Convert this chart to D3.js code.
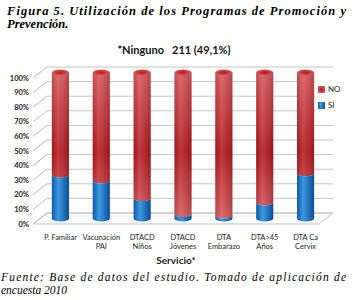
<!DOCTYPE html>
<html>
<head>
<meta charset="utf-8">
<script src="https://cdn.jsdelivr.net/npm/d3@7"></script>
<style>
  body { margin: 0; background: #fff; }
  svg { display: block; }
  .serif { font-family: "Liberation Serif", "DejaVu Serif", "Times New Roman", serif; font-style: italic; }
</style>
</head>
<body>
<div id="chart"></div>
<script>
// Data
const services = [
  ["P. Familiar"],
  ["Vacunación", "PAI"],
  ["DTACD", "Niños"],
  ["DTACD", "Jóvenes"],
  ["DTA", "Embarazo"],
  ["DTA>45", "Años"],
  ["DTA Ca", "Cervix"]
];
const siValues = [30, 26, 14, 3, 2, 11, 31];
const noValues = [70, 74, 86, 97, 98, 89, 69];
const yTicks = [0, 10, 20, 30, 40, 50, 60, 70, 80, 90, 100];

const width = 353, height = 300;

const svg = d3.select("#chart").append("svg")
  .attr("width", width)
  .attr("height", height);

// 3D frame: front plane and back plane offsets
const front = {x0: 33, x1: 319, y0: 224, y1: 78};
const dx = 14, dy = -11;

const yFront = d3.scaleLinear().domain([0, 100]).range([front.y0, front.y1]);
const yBack = v => yFront(v) + dy;
const yMid = v => yFront(v) + dy / 2;

const x = d3.scaleBand()
  .domain(d3.range(services.length))
  .range([front.x0 + dx / 2, front.x1 + dx / 2])
  .padding(0);

const barW = x.bandwidth() * 0.42;
const rx = barW / 2, ry = 3;

// Gradients
const defs = svg.append("defs");
const redGrad = defs.append("linearGradient")
  .attr("id", "redV")
  .attr("gradientUnits", "userSpaceOnUse")
  .attr("x1", 0).attr("x2", 0)
  .attr("y1", yMid(100)).attr("y2", yMid(0));
redGrad.append("stop").attr("offset", 0).attr("stop-color", "#d9585b");
redGrad.append("stop").attr("offset", 0.55).attr("stop-color", "#b3181d");
redGrad.append("stop").attr("offset", 1).attr("stop-color", "#d75a5c");

const shade = defs.append("linearGradient").attr("id", "shadeH");
shade.append("stop").attr("offset", 0).attr("stop-color", "#000").attr("stop-opacity", 0.12);
shade.append("stop").attr("offset", 0.35).attr("stop-color", "#fff").attr("stop-opacity", 0.12);
shade.append("stop").attr("offset", 1).attr("stop-color", "#000").attr("stop-opacity", 0.15);

const blueGrad = defs.append("linearGradient").attr("id", "blueH");
blueGrad.append("stop").attr("offset", 0).attr("stop-color", "#0f5aa8");
blueGrad.append("stop").attr("offset", 0.38).attr("stop-color", "#3a9ae0");
blueGrad.append("stop").attr("offset", 1).attr("stop-color", "#0b4c95");

const capGrad = defs.append("radialGradient").attr("id", "capR");
capGrad.append("stop").attr("offset", 0).attr("stop-color", "#b8161b");
capGrad.append("stop").attr("offset", 1).attr("stop-color", "#d65a5c");

// Walls and gridlines
const grid = svg.append("g");
grid.append("path")
  .attr("d", `M${front.x0},${front.y0}L${front.x1},${front.y0}L${front.x1 + dx},${front.y0 + dy}L${front.x0 + dx},${front.y0 + dy}Z`)
  .attr("fill", "#fafafa")
  .attr("stroke", "#c4c4c4");

grid.selectAll(".back")
  .data(yTicks)
  .enter().append("line")
  .attr("x1", front.x0 + dx).attr("x2", front.x1 + dx)
  .attr("y1", d => yBack(d)).attr("y2", d => yBack(d))
  .attr("stroke", "#c4c4c4");

grid.selectAll(".side")
  .data(yTicks)
  .enter().append("line")
  .attr("x1", front.x0).attr("x2", front.x0 + dx)
  .attr("y1", d => yFront(d)).attr("y2", d => yBack(d))
  .attr("stroke", "#b8b8b8");

// Y labels
svg.selectAll(".ylab")
  .data(yTicks)
  .enter().append("text")
  .attr("x", 29)
  .attr("y", d => yFront(d))
  .attr("dy", "0.35em")
  .attr("text-anchor", "end")
  .style("font-family", "Lato, sans-serif")
  .style("font-weight", "bold")
  .style("font-size", "7.5px")
  .style("fill", "#222")
  .text(d => d + "%");

// Cylinders
const bars = svg.selectAll(".bar")
  .data(services.map((s, i) => ({i, si: siValues[i], no: noValues[i]})))
  .enter().append("g");

bars.each(function(d) {
  const g = d3.select(this);
  const cx = x(d.i) + x.bandwidth() / 2;
  const x0 = cx - rx, x1 = cx + rx;
  const yTop = yMid(d.si + d.no), ySi = yMid(d.si), y0 = yMid(0);

  const redPath = `M${x0},${yTop}L${x0},${ySi}A${rx},${ry} 0 0 0 ${x1},${ySi}L${x1},${yTop}Z`;
  g.append("path").attr("d", redPath).attr("fill", "url(#redV)");
  g.append("path").attr("d", redPath).attr("fill", "url(#shadeH)");

  const bluePath = `M${x0},${ySi}A${rx},${ry} 0 0 0 ${x1},${ySi}L${x1},${y0}A${rx},${ry} 0 0 1 ${x0},${y0}Z`;
  g.append("path").attr("d", bluePath).attr("fill", "url(#blueH)");

  g.append("ellipse")
    .attr("cx", cx).attr("cy", yTop)
    .attr("rx", rx).attr("ry", ry)
    .attr("fill", "url(#capR)");
});

// X labels
const xl = svg.selectAll(".xlab")
  .data(services)
  .enter().append("text")
  .attr("text-anchor", "middle")
  .style("font-family", "Lato, sans-serif")
  .style("font-size", "7.5px")
  .style("fill", "#222");
xl.selectAll("tspan")
  .data((d, i) => d.map(t => ({t, i})))
  .enter().append("tspan")
  .attr("x", d => x(d.i) + x.bandwidth() / 2)
  .attr("y", (d, j) => 240 + j * 8.5)
  .text(d => d.t);

svg.append("text")
  .attr("x", 176).attr("y", 264)
  .attr("text-anchor", "middle")
  .style("font-family", "Lato, sans-serif")
  .style("font-weight", "bold")
  .style("font-size", "10px")
  .style("fill", "#222")
  .text("Servicio*");

// Legend
const legendData = [
  {label: "NO", fill: "url(#capR)", y: 86},
  {label: "SI", fill: "url(#blueH)", y: 102}
];
svg.append("rect")
  .attr("x", 315).attr("y", 81).attr("width", 33).attr("height", 32)
  .attr("fill", "#fff");
const legend = svg.selectAll(".leg")
  .data(legendData)
  .enter().append("g");
legend.append("rect")
  .attr("x", 318).attr("y", d => d.y)
  .attr("width", 7).attr("height", 7)
  .attr("fill", d => d.fill);
legend.append("text")
  .attr("x", 328).attr("y", d => d.y + 3.5)
  .attr("dy", "0.35em")
  .style("font-family", "Lato, sans-serif")
  .style("font-size", "8px")
  .style("fill", "#222")
  .text(d => d.label);

// Subtitle
svg.append("text")
  .attr("x", 174).attr("y", 54)
  .attr("text-anchor", "middle")
  .attr("xml:space", "preserve")
  .style("font-family", "Lato, sans-serif")
  .style("font-weight", "bold")
  .style("font-size", "11px")
  .style("fill", "#111")
  .text("*Ninguno   211 (49,1%)");

// Title
svg.append("text")
  .attr("class", "serif")
  .attr("x", 7).attr("y", 15)
  .attr("textLength", 339)
  .attr("lengthAdjust", "spacing")
  .style("font-weight", "bold")
  .style("font-size", "12.5px")
  .text("Figura 5. Utilización de los Programas de Promoción y");
svg.append("text")
  .attr("class", "serif")
  .attr("x", 7).attr("y", 28)
  .style("font-weight", "bold")
  .style("font-size", "12.5px")
  .text("Prevención.");

// Source
svg.append("text")
  .attr("class", "serif")
  .attr("x", 1).attr("y", 281)
  .attr("textLength", 345)
  .attr("lengthAdjust", "spacing")
  .style("font-size", "11.5px")
  .text("Fuente: Base de datos del estudio. Tomado de aplicación de");
svg.append("text")
  .attr("class", "serif")
  .attr("x", 1).attr("y", 294)
  .style("font-size", "11.5px")
  .text("encuesta 2010");
</script>
</body>
</html>
